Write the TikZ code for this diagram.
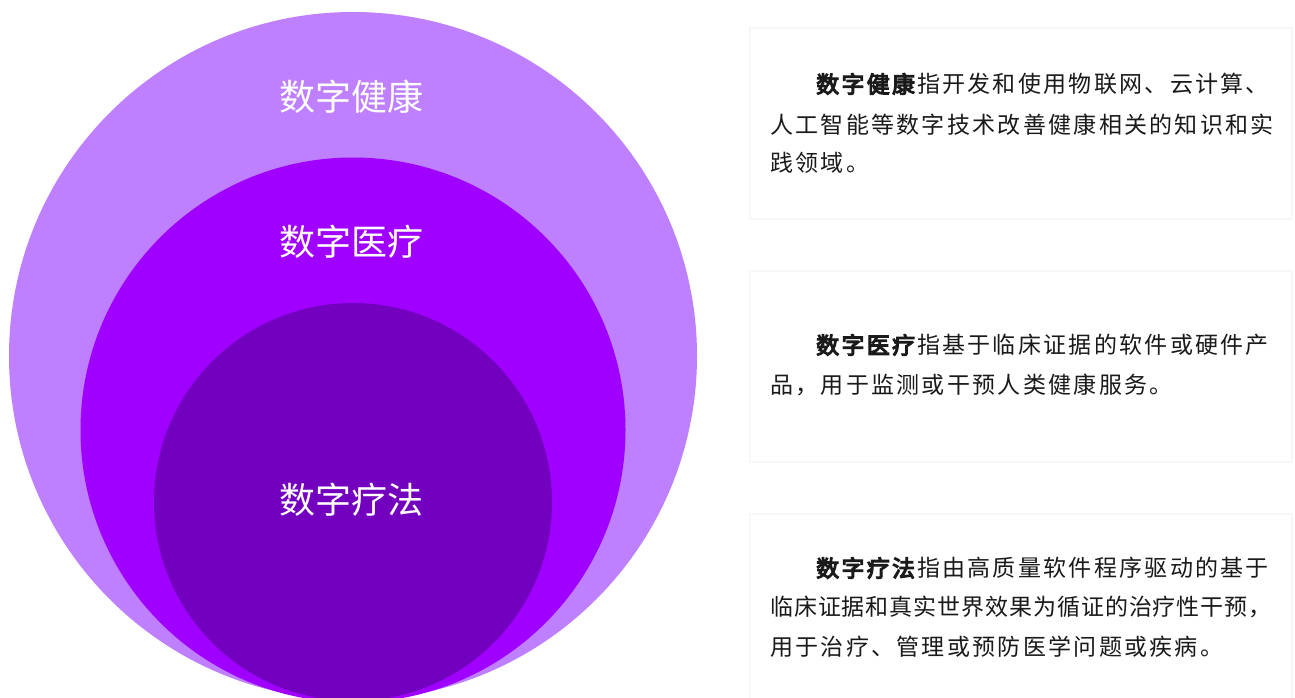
\documentclass[tikz,border=0pt]{standalone}
\usepackage{fontspec}
\newfontfamily\cjk[LetterSpace=10]{Noto Sans CJK SC}
\newfontfamily\cjktight[LetterSpace=4]{Noto Sans CJK SC}
\newfontfamily\cjkb[LetterSpace=10,FakeBold=5]{Noto Sans CJK SC}
\newfontfamily\cjklabel{Noto Sans CJK SC}
\definecolor{cOuter}{HTML}{BF80FF}
\definecolor{cMid}{HTML}{A000FF}
\definecolor{cInner}{HTML}{7300BF}
\definecolor{txt}{HTML}{1A1A1A}
\tikzset{
  ring/.style={circle, inner sep=0pt, draw=none},
  ringlabel/.style={text=white, inner sep=0pt, font=\cjklabel\fontsize{36}{40}\selectfont},
  infobox/.style={fill=white, draw=black!3, line width=1.5pt},
  infoline/.style={anchor=west, inner sep=0pt, text=txt, font=\cjk\fontsize{23}{26}\selectfont},
}
\begin{document}
\begin{tikzpicture}[x=1pt,y=-1pt]
\useasboundingbox (0,0) rectangle (1295,698);
% circles
\node[ring, fill=cOuter, minimum size=688pt] (outer) at (353,356) {};
\node[ring, fill=cMid, minimum size=545pt] (mid) at (353,430) {};
\node[ring, fill=cInner, minimum size=398pt] (inner) at (353,502) {};
\node[ringlabel] (l1) at (351,97) {数字健康};
\node[ringlabel] (l2) at (351,242) {数字医疗};
\node[ringlabel] (l3) at (351,500) {数字疗法};
% boxes
\path[infobox] (750,28) rectangle (1292,219);
\node[inner sep=0pt] (box1) at (1021,123.5) {};
\path[infobox] (750,271) rectangle (1292,462);
\node[inner sep=0pt] (box2) at (1021,366.5) {};
\path[infobox] (750,514) rectangle (1292,720);
\node[inner sep=0pt] (box3) at (1021,607) {};
% box 1 text
\node[infoline] (t11) at (816,84) {{\cjkb 数字健康}\kern2pt 指开发和使用物联网、云计算、};
\node[infoline] (t12) at (770,125) {人工智能等数字技术改善健康相关的知识和实};
\node[infoline] (t13) at (770,163) {践领域。};
% box 2 text
\node[infoline] (t21) at (816,345) {{\cjkb 数字医疗}\kern2pt 指基于临床证据的软件或硬件产};
\node[infoline] (t22) at (770,385) {品，用于监测或干预人类健康服务。};
% box 3 text
\node[infoline] (t31) at (816,568) {{\cjkb 数字疗法}\kern2pt 指由高质量软件程序驱动的基于};
\node[infoline, font=\cjktight\fontsize{23}{26}\selectfont] (t32) at (770,607) {临床证据和真实世界效果为循证的治疗性干预，};
\node[infoline] (t33) at (770,647) {用于治疗、管理或预防医学问题或疾病。};
\end{tikzpicture}
\end{document}
